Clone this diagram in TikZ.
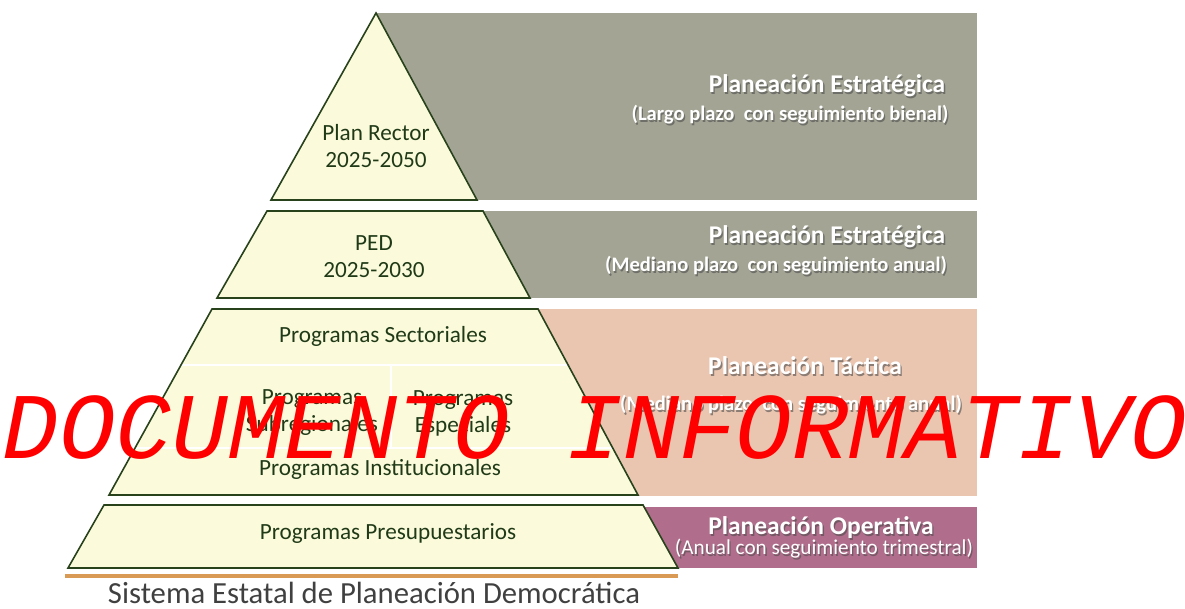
\documentclass[tikz,border=0pt]{standalone}
\usepackage{fontspec}
\setmainfont{Carlito}
\newfontfamily\wmfont{Liberation Mono}
\usetikzlibrary{calc}
\definecolor{grayband}{RGB}{163,164,148}
\definecolor{salmonband}{RGB}{234,198,177}
\definecolor{plumband}{RGB}{176,110,140}
\definecolor{pyrfill}{RGB}{251,251,219}
\definecolor{pyrline}{RGB}{40,66,28}
\definecolor{pyrtext}{RGB}{32,58,24}
\definecolor{baseline}{RGB}{216,154,85}
\definecolor{titlegray}{RGB}{64,64,64}
\newcommand\ShLabel[5]{%
  \node[shadowtxt,font=#4,xshift=1.3pt,yshift=-1.3pt] at (#2,#3) {#5};
  \node[bandtxt,font=#4] (#1) at (#2,#3) {#5};}
\begin{document}
\begin{tikzpicture}[x=1pt,y=-1pt,
  pyr/.style={draw=pyrline,fill=pyrfill,line width=1.6pt,line join=miter},
  pyrtxt/.style={text=pyrtext,font=\fontsize{23.2}{27}\selectfont,align=center,inner sep=0pt},
  bandtxt/.style={text=white,inner sep=0pt},
  shadowtxt/.style={text=black!70,opacity=0.6,inner sep=0pt},
  divider/.style={draw=white,line width=2pt}]
\useasboundingbox (0,0) rectangle (1185,608);
% bands
\fill[grayband] (376,13) rectangle (977,200);
\fill[grayband] (470,211) rectangle (977,298);
\fill[salmonband] (530,309) rectangle (977,496);
\fill[plumband] (640,507) rectangle (977,568);
% pyramid tier 1
\coordinate (a1) at (376,13); \coordinate (a2) at (477,200); \coordinate (a3) at (271,200);
\draw[pyr] (a1) -- (a2) -- (a3) -- cycle;
% tier 2
\coordinate (b1) at (267,211); \coordinate (b2) at (483,211);
\coordinate (b3) at (530,298); \coordinate (b4) at (217,298);
\draw[pyr] (b1) -- (b2) -- (b3) -- (b4) -- cycle;
% tier 3
\coordinate (c1) at (212,309); \coordinate (c2) at (538,309);
\coordinate (c3) at (638,495); \coordinate (c4) at (109,495);
\fill[pyrfill] (c1) -- (c2) -- (c3) -- (c4) -- cycle;
\begin{scope}
  \clip (c1) -- (c2) -- (c3) -- (c4) -- cycle;
  \draw[divider] (100,365) -- (650,365);
  \draw[divider] (100,448) -- (650,448);
  \draw[divider] (391,365) -- (391,448);
\end{scope}
\draw[pyr,fill=none] (c1) -- (c2) -- (c3) -- (c4) -- cycle;
% tier 4
\coordinate (d1) at (104,505); \coordinate (d2) at (643,505);
\coordinate (d3) at (678,568); \coordinate (d4) at (68,568);
\draw[pyr] (d1) -- (d2) -- (d3) -- (d4) -- cycle;
% base line
\coordinate (e1) at (65,576); \coordinate (e2) at (678,576);
\draw[draw=baseline,line width=3.2pt] (e1) -- (e2);
% pyramid texts
\node[pyrtxt] (rector) at (376,146) {Plan Rector\\2025-2050};
\node[pyrtxt] (ped) at (374,257) {PED\\2025-2030};
\node[pyrtxt] (sect) at (383,336) {Programas Sectoriales};
\node[pyrtxt] (subreg) at (312,413) {Programas\\Subregionales};
\node[pyrtxt] (espec) at (463,413) {Programas\\Especiales};
\node[pyrtxt] (inst) at (380,469) {Programas Institucionales};
\node[pyrtxt] (presu) at (388,534) {Programas Presupuestarios};
\node[text=titlegray,font=\fontsize{30.7}{34}\selectfont,inner sep=0pt,anchor=base] (sistema) at (374,603) {Sistema Estatal de Planeación Democrática};
% band labels
\ShLabel{pe1}{827}{86}{\bfseries\fontsize{25.5}{28}\selectfont}{Planeación Estratégica}
\ShLabel{pe1s}{790}{115}{\bfseries\fontsize{20.6}{24}\selectfont}{(Largo plazo\ \ con seguimiento bienal)}
\ShLabel{pe2}{827}{237}{\bfseries\fontsize{25.5}{28}\selectfont}{Planeación Estratégica}
\ShLabel{pe2s}{776}{266}{\bfseries\fontsize{20.6}{24}\selectfont}{(Mediano plazo\ \ con seguimiento anual)}
\ShLabel{pt}{805}{366}{\bfseries\fontsize{25.5}{28}\selectfont}{Planeación Táctica}
\ShLabel{pts}{791}{405}{\bfseries\fontsize{20.6}{24}\selectfont}{(Mediano plazo\ \ con seguimiento anual)}
\ShLabel{po}{821}{528}{\bfseries\fontsize{25.5}{28}\selectfont}{Planeación Operativa}
\ShLabel{pos}{824}{549}{\fontsize{21.2}{24}\selectfont}{(Anual con seguimiento trimestral)}
% watermark
\node[text=red,font=\wmfont\itshape\fontsize{94}{94}\selectfont,inner sep=0pt,anchor=base] (wm) at (595,458) {DOCUMENTO INFORMATIVO};
\end{tikzpicture}
\end{document}
